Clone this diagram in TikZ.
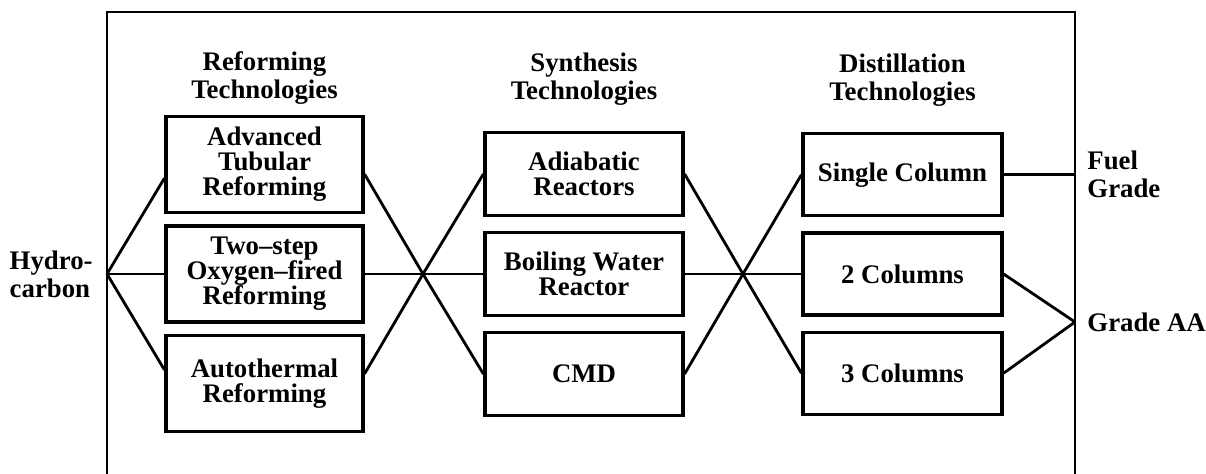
\documentclass[tikz,border=0pt]{standalone}
\usepackage{fontspec}
\setmainfont{Liberation Serif}
\usepackage{tikz}
\usetikzlibrary{positioning}
\tikzstyle{techbox} = [rectangle, draw, line width=1.6pt, align=center, inner sep=0pt, font=\bfseries\fontsize{13.4}{12.5}\selectfont]
\tikzstyle{head} = [align=center, inner sep=0pt, font=\bfseries\fontsize{13.4}{14}\selectfont]
\tikzstyle{link} = [line width=1.4pt]

\begin{document}
\begin{tikzpicture}[x=0.5pt, y=-0.5pt]
\useasboundingbox (0,0) rectangle (1206,474);

% Frame (open at the bottom)
\draw[line width=1pt] (107,474) -- (107,12) -- (1075,12) -- (1075,474);

% Reforming boxes
\node[techbox, minimum width=98.5pt, minimum height=48pt] (r2) at (264.5,274) {Two--step\\Oxygen--fired\\Reforming};
\node[techbox, minimum width=98.5pt, minimum height=48pt, above=5.3pt of r2] (r1) {Advanced\\Tubular\\Reforming};
\node[techbox, minimum width=98.5pt, minimum height=48pt, below=5.3pt of r2] (r3) {Autothermal\\Reforming};

% Synthesis boxes
\node[techbox, minimum width=99pt, minimum height=41.5pt] (s2) at (584,274) {Boiling Water\\Reactor};
\node[techbox, minimum width=99pt, minimum height=41.5pt, above=6.9pt of s2] (s1) {Adiabatic\\Reactors};
\node[techbox, minimum width=99pt, minimum height=41.5pt, below=6.9pt of s2] (s3) {CMD};

% Distillation boxes
\node[techbox, minimum width=99.5pt, minimum height=41pt] (d2) at (902.5,274) {2 Columns};
\node[techbox, minimum width=99.5pt, minimum height=41pt, above=7pt of d2] (d1) {Single Column};
\node[techbox, minimum width=99.5pt, minimum height=41pt, below=7pt of d2] (d3) {3 Columns};

% Column headings
\node[head] (rhead) at (r1 |- 0,78) {Reforming\\Technologies};
\node[head] (shead) at (s1 |- 0,79) {Synthesis\\Technologies};
\node[head] (dhead) at (d1 |- 0,80) {Distillation\\Technologies};

% Branch points
\coordinate (hc) at (r2.west -| 107,0);
\coordinate (x1) at (r2.east -| 423,0);
\coordinate (x2) at (s2.east -| 743,0);
\coordinate (fuel) at (d1.east -| 1075,0);
\coordinate (aa) at (1075,322);

% Feed and products
\node[head, align=left, left=7pt of hc] (hydro) {Hydro-\\carbon};
\node[head, align=left, right=6pt of fuel] (fg) {Fuel\\Grade};
\node[head, right=6pt of aa] (gaa) {Grade AA};

% Links
\draw[link] (hc) -- ([yshift=-7pt]r1.west);
\draw[link] (hc) -- (r2.west);
\draw[link] (hc) -- ([yshift=7pt]r3.west);

\draw[link] ([yshift=-5pt]r1.east) -- (x1) -- (s3.west);
\draw[link] (r2.east) -- (x1) -- (s2.west);
\draw[link] ([yshift=5pt]r3.east) -- (x1) -- (s1.west);

\draw[link] (s1.east) -- (x2) -- (d3.west);
\draw[link] (s2.east) -- (x2) -- (d2.west);
\draw[link] (s3.east) -- (x2) -- (d1.west);

\draw[link] (d1.east) -- (fuel);
\draw[link] (d2.east) -- (aa);
\draw[link] (d3.east) -- (aa);

\end{tikzpicture}
\end{document}
